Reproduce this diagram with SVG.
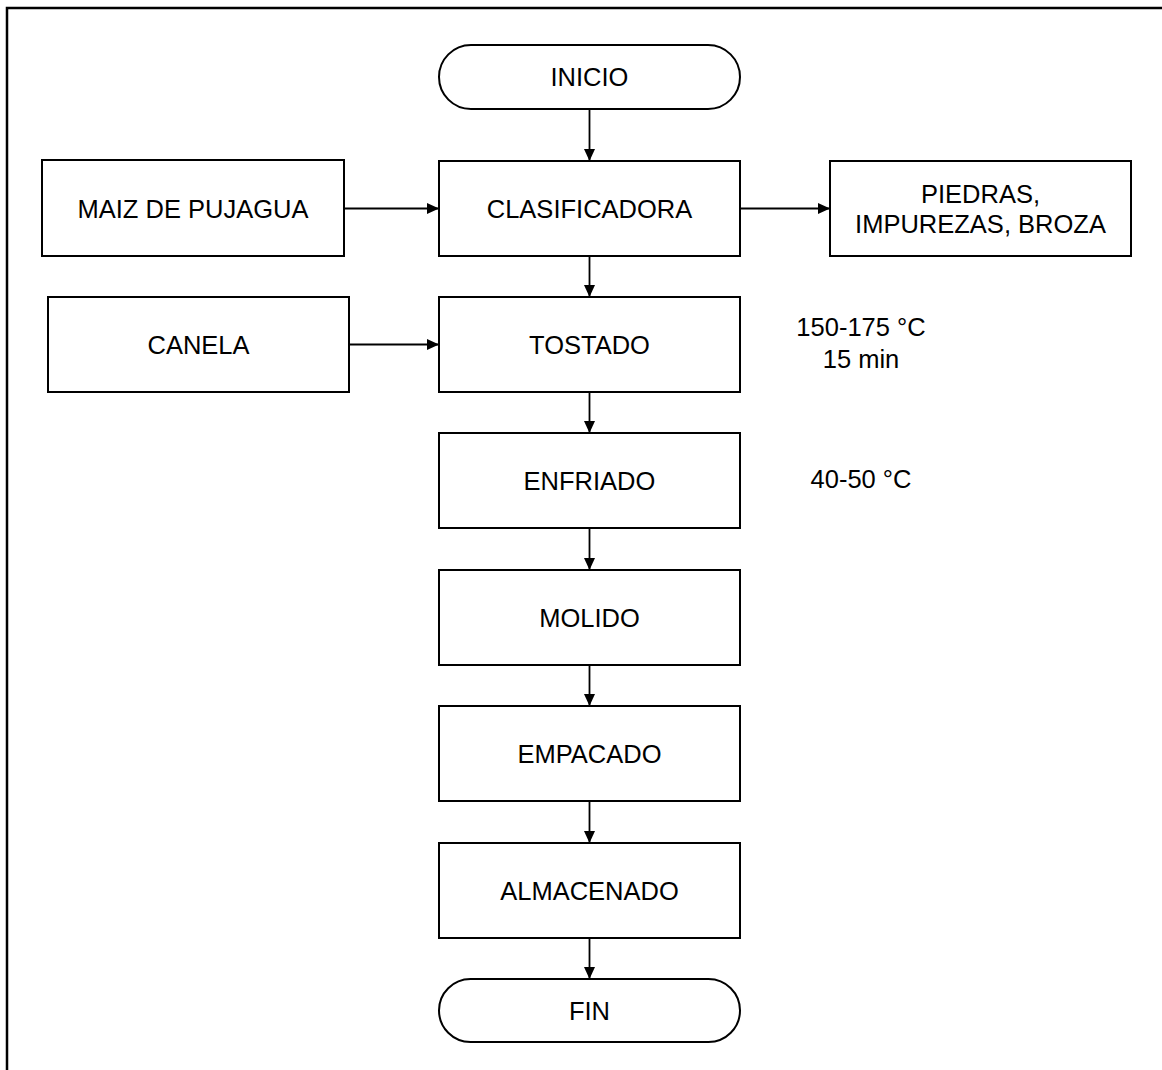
<svg xmlns="http://www.w3.org/2000/svg" width="1162" height="1070" viewBox="0 0 1162 1070">
  <style>
    .box { fill: #ffffff; stroke: #000000; stroke-width: 2; }
    .lbl { font-family: "Liberation Sans", Arial, sans-serif; font-size: 25.5px; fill: #000000; text-anchor: middle; }
    .edge { fill: none; stroke: #000000; stroke-width: 1.8; }
  </style>
  <defs>
    <marker id="arrow" viewBox="0 0 12 11" refX="12" refY="5.5" markerWidth="12" markerHeight="11" markerUnits="userSpaceOnUse" orient="auto">
      <path d="M0,0 L12,5.5 L0,11 Z" fill="#000000"/>
    </marker>
  </defs>

  <rect width="1162" height="1070" fill="#ffffff"/>
  <!-- page frame -->
  <rect x="7" y="8" width="1170" height="1080" fill="none" stroke="#000000" stroke-width="2.5"/>

  <g id="connectors">
    <line class="edge" x1="589.5" y1="109" x2="589.5" y2="161" marker-end="url(#arrow)"/>
    <line class="edge" x1="344" y1="208.5" x2="439" y2="208.5" marker-end="url(#arrow)"/>
    <line class="edge" x1="740" y1="208.5" x2="830" y2="208.5" marker-end="url(#arrow)"/>
    <line class="edge" x1="589.5" y1="256" x2="589.5" y2="297" marker-end="url(#arrow)"/>
    <line class="edge" x1="349" y1="344.5" x2="439" y2="344.5" marker-end="url(#arrow)"/>
    <line class="edge" x1="589.5" y1="392" x2="589.5" y2="433" marker-end="url(#arrow)"/>
    <line class="edge" x1="589.5" y1="528" x2="589.5" y2="570" marker-end="url(#arrow)"/>
    <line class="edge" x1="589.5" y1="665" x2="589.5" y2="706" marker-end="url(#arrow)"/>
    <line class="edge" x1="589.5" y1="801" x2="589.5" y2="843" marker-end="url(#arrow)"/>
    <line class="edge" x1="589.5" y1="938" x2="589.5" y2="979" marker-end="url(#arrow)"/>
  </g>

  <g id="inicio">
    <rect class="box" x="439" y="45" width="301" height="64" rx="32" ry="32"/>
    <text class="lbl" x="589.5" y="86">INICIO</text>
  </g>
  <g id="maiz">
    <rect class="box" x="42" y="160" width="302" height="96"/>
    <text class="lbl" x="193" y="217.5">MAIZ DE PUJAGUA</text>
  </g>
  <g id="clasificadora">
    <rect class="box" x="439" y="161" width="301" height="95"/>
    <text class="lbl" x="589.5" y="217.5">CLASIFICADORA</text>
  </g>
  <g id="piedras">
    <rect class="box" x="830" y="161" width="301" height="95"/>
    <text class="lbl" x="980.5" y="202.5">PIEDRAS,</text>
    <text class="lbl" x="980.5" y="232.5">IMPUREZAS, BROZA</text>
  </g>
  <g id="canela">
    <rect class="box" x="48" y="297" width="301" height="95"/>
    <text class="lbl" x="198.5" y="353.5">CANELA</text>
  </g>
  <g id="tostado">
    <rect class="box" x="439" y="297" width="301" height="95"/>
    <text class="lbl" x="589.5" y="353.5">TOSTADO</text>
  </g>
  <g id="tostado-note">
    <text class="lbl" x="861" y="336">150-175 °C</text>
    <text class="lbl" x="861" y="368">15 min</text>
  </g>
  <g id="enfriado">
    <rect class="box" x="439" y="433" width="301" height="95"/>
    <text class="lbl" x="589.5" y="489.5">ENFRIADO</text>
  </g>
  <g id="enfriado-note">
    <text class="lbl" x="861" y="488">40-50 °C</text>
  </g>
  <g id="molido">
    <rect class="box" x="439" y="570" width="301" height="95"/>
    <text class="lbl" x="589.5" y="626.5">MOLIDO</text>
  </g>
  <g id="empacado">
    <rect class="box" x="439" y="706" width="301" height="95"/>
    <text class="lbl" x="589.5" y="762.5">EMPACADO</text>
  </g>
  <g id="almacenado">
    <rect class="box" x="439" y="843" width="301" height="95"/>
    <text class="lbl" x="589.5" y="899.5">ALMACENADO</text>
  </g>
  <g id="fin">
    <rect class="box" x="439" y="979" width="301" height="63" rx="31.5" ry="31.5"/>
    <text class="lbl" x="589.5" y="1020">FIN</text>
  </g>
</svg>
